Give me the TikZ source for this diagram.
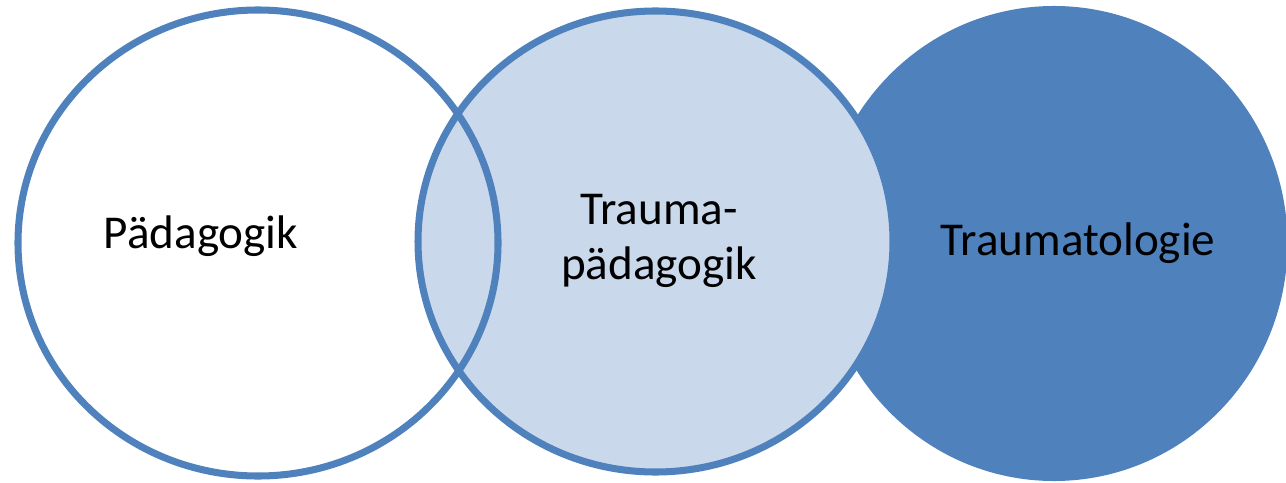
\documentclass[tikz,border=0pt]{standalone}
\usepackage{fontspec}
\setmainfont{Carlito}
\definecolor{kreisblau}{HTML}{4F81BD}
\definecolor{hellblau}{HTML}{CAD8EB}
\tikzset{
  kreis/.style={draw=kreisblau, line width=2pt},
  beschriftung/.style={font=\fontsize{13.4}{15.6}\selectfont, text=black, align=center}
}
\begin{document}
\begin{tikzpicture}[x=0.01cm,y=-0.01cm]
    \useasboundingbox (0,0) rectangle (1286,482);
    % Traumatologie liegt hinten, die Traumapaedagogik darueber
    \draw[kreis, fill=kreisblau] (1054,243.5) ellipse (230 and 234);
    \draw[kreis, fill=hellblau] (655.5,241.5) ellipse (237.5 and 230.5);
    % Paedagogik nur als Umriss, damit die Schnittmenge sichtbar bleibt
    \draw[kreis] (258,243) ellipse (240 and 233);
    \node[beschriftung] (paed) at (201,236) {Pädagogik};
    \node[beschriftung] (traumapaed) at (659,241) {Trauma-\\pädagogik};
    \node[beschriftung] (traumatologie) at (1078,243) {Traumatologie};
\end{tikzpicture}
\end{document}
